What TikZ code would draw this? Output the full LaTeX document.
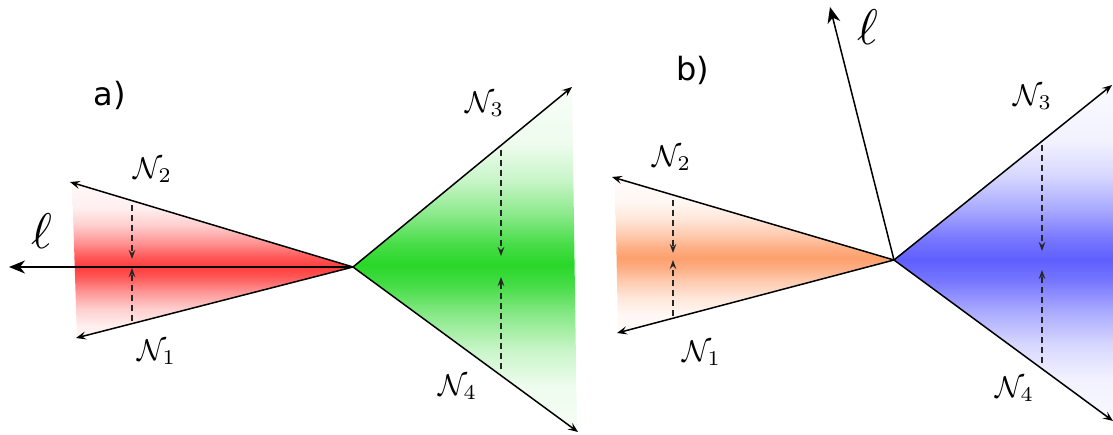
\documentclass[tikz,border=0pt]{standalone}
\usepackage{fontspec}
\newfontfamily\labelfont{DejaVu Sans}
\usetikzlibrary{arrows.meta}
\definecolor{cred}{RGB}{255,60,60}
\definecolor{cgreen}{RGB}{40,215,40}
\definecolor{corange}{RGB}{253,160,110}
\definecolor{cblue}{RGB}{95,95,255}
\newcommand{\fadespec}[1]{color(0bp)=(white); color(25bp)=(#1!3); color(33bp)=(#1!8); color(38bp)=(#1!25); color(43bp)=(#1!55); color(47bp)=(#1!85); color(50bp)=(#1); color(53bp)=(#1!85); color(57bp)=(#1!55); color(62bp)=(#1!25); color(67bp)=(#1!8); color(75bp)=(#1!3); color(100bp)=(white)}
\pgfdeclareverticalshading{fadered}{100bp}{\fadespec{cred}}
\pgfdeclareverticalshading{fadegreen}{100bp}{\fadespec{cgreen}}
\pgfdeclareverticalshading{fadeorange}{100bp}{\fadespec{corange}}
\pgfdeclareverticalshading{fadeblue}{100bp}{\fadespec{cblue}}
\tikzset{
  ray/.style={line width=1.5pt, -{Stealth[length=10pt,width=8pt,inset=4pt]}},
  bigray/.style={line width=1.5pt, -{Stealth[length=16pt,width=13pt,inset=5pt]}},
  squeeze/.style={line width=1.3pt, black!85, dash pattern=on 6pt off 4pt, -{Stealth[length=9pt,width=6.5pt,inset=3pt]}},
  lab/.style={inner sep=0pt, scale=3.0},
  ell/.style={inner sep=0pt, scale=5.0},
  panel/.style={inner sep=0pt, font=\labelfont\fontsize{32}{38}\selectfont},
}
\begin{document}
\begin{tikzpicture}[x=1pt,y=-1pt]
\useasboundingbox (0,0) rectangle (1113,434);
% ---------- panel a ----------
\coordinate (A) at (353,267);
\coordinate (a2) at (70,182);
\coordinate (a1) at (76,338);
\coordinate (a3) at (572,87);
\coordinate (a4) at (578,432);
\coordinate (al) at (9,267);
\begin{scope}
  \clip (A) -- (72,182) -- (77,338) -- cycle;
  \shade[shading=fadered] (60,180) rectangle (360,354);
\end{scope}
\begin{scope}
  \clip (A) -- (572,87) -- (577,432) -- cycle;
  \shade[shading=fadegreen] (350,87) rectangle (580,443);
\end{scope}
\draw[ray] (A) -- (a2);
\draw[ray] (A) -- (a1);
\draw[ray] (A) -- (a3);
\draw[ray] (A) -- (a4);
\draw[bigray] (A) -- (al);
\coordinate (d1s) at (132,205); \coordinate (d1e) at (132,259);
\coordinate (d2s) at (132,321); \coordinate (d2e) at (132,268);
\draw[squeeze] (d1s) -- (d1e);
\draw[squeeze] (d2s) -- (d2e);
\coordinate (d3s) at (501,150); \coordinate (d3e) at (501,256);
\coordinate (d4s) at (501,369); \coordinate (d4e) at (501,277);
\draw[squeeze] (d3s) -- (d3e);
\draw[squeeze] (d4s) -- (d4e);
\node[panel] (pa) at (110,95) {a)};
\node[ell] (la) at (42,231) {$\ell$};
\node[lab] (n2a) at (153,170) {$\mathcal{N}_2$};
\node[lab] (n1a) at (157,352) {$\mathcal{N}_1$};
\node[lab] (n3a) at (485,104) {$\mathcal{N}_3$};
\node[lab] (n4a) at (458,387) {$\mathcal{N}_4$};
% ---------- panel b ----------
\coordinate (B) at (894,260);
\coordinate (b2) at (612,177);
\coordinate (b1) at (617,333);
\coordinate (b3) at (1112,85);
\coordinate (b4) at (1113,421);
\coordinate (bl) at (830,7);
\begin{scope}
  \clip (B) -- (615,177) -- (618,333) -- cycle;
  \shade[shading=fadeorange] (600,175) rectangle (900,341);
\end{scope}
\begin{scope}
  \clip (B) -- (1113,84) -- (1113,422) -- cycle;
  \shade[shading=fadeblue] (890,84) rectangle (1113,436);
\end{scope}
\draw[ray] (B) -- (b2);
\draw[ray] (B) -- (b1);
\draw[ray] (B) -- (b3);
\draw[ray] (B) -- (b4);
\draw[bigray] (B) -- (bl);
\coordinate (e1s) at (673,200); \coordinate (e1e) at (673,253);
\coordinate (e2s) at (673,316); \coordinate (e2e) at (673,260);
\draw[squeeze] (e1s) -- (e1e);
\draw[squeeze] (e2s) -- (e2e);
\coordinate (e3s) at (1042,145); \coordinate (e3e) at (1042,251);
\coordinate (e4s) at (1042,363); \coordinate (e4e) at (1042,270);
\draw[squeeze] (e3s) -- (e3e);
\draw[squeeze] (e4s) -- (e4e);
\node[panel] (pb) at (693,70) {b)};
\node[ell] (lb) at (868,27) {$\ell$};
\node[lab] (n2b) at (672,158) {$\mathcal{N}_2$};
\node[lab] (n1b) at (702,353) {$\mathcal{N}_1$};
\node[lab] (n3b) at (1033,97) {$\mathcal{N}_3$};
\node[lab] (n4b) at (1015,389) {$\mathcal{N}_4$};
\end{tikzpicture}
\end{document}
